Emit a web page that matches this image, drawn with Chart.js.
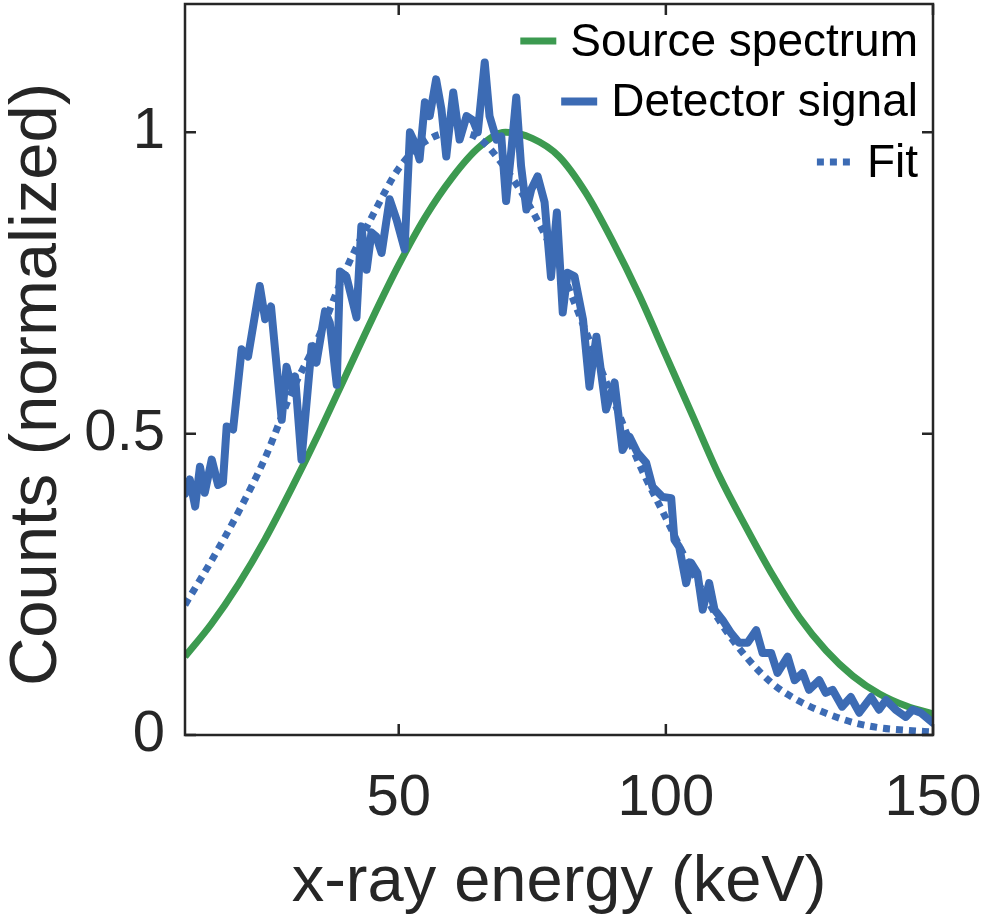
<!DOCTYPE html>
<html lang="en">
<head>
<meta charset="UTF-8">
<title>X-ray energy spectrum</title>
<script src="https://cdn.jsdelivr.net/npm/chart.js"></script>
<style>
  html, body { margin: 0; padding: 0; background: #fff; }
  #wrap { width: 982px; height: 918px; }
</style>
</head>
<body>
<div id="wrap"><canvas id="spectrum" width="982" height="918"></canvas></div>
<script>
const sourceEnergy = [10, 15, 20, 25, 30, 35, 40, 45, 50, 55, 60, 65, 70, 75, 80,
  85, 90, 95, 100, 105, 110, 115, 120, 125, 130, 135, 140, 145, 150];
const sourceCounts = [0.13, 0.185, 0.25, 0.325, 0.41, 0.50, 0.595, 0.69, 0.78, 0.86, 0.925, 0.975, 1.0, 0.99, 0.96,
  0.90, 0.82, 0.73, 0.63, 0.53, 0.43, 0.345, 0.265, 0.195, 0.14, 0.098, 0.068, 0.048, 0.035];

// Detector signal (blue, noisy)
const detectorEnergy = [10.0, 10.9, 11.9, 12.8, 13.7, 15.0, 16.2, 17.1, 17.8, 19.0,
  20.6, 21.8, 24.0, 25.0, 26.1, 28.1, 29.0, 29.9, 30.6, 31.8,
  33.7, 34.6, 36.2, 37.1, 38.4, 39.0, 40.2, 42.1, 43.0, 44.0,
  44.9, 45.8, 46.8, 48.3, 49.6, 51.1, 52.1, 53.0, 53.9, 54.9,
  55.8, 57.0, 58.0, 58.9, 60.2, 61.4, 62.7, 63.9, 64.8, 66.1,
  67.0, 68.3, 69.2, 70.1, 71.1, 72.0, 72.9, 73.9, 74.8, 76.0,
  77.3, 78.5, 79.6, 80.7, 81.6, 82.9, 83.5, 84.5, 85.7, 87.0,
  88.8, 90.4, 91.9, 93.2, 94.7, 96.3, 97.5, 99.4, 101.0, 101.6,
  102.5, 103.8, 104.7, 105.9, 106.9, 108.1, 109.1, 110.6, 112.2, 113.7,
  115.3, 116.9, 118.1, 119.7, 120.9, 122.8, 124.1, 125.6, 126.8, 128.7,
  129.9, 131.2, 133.0, 134.6, 136.2, 138.4, 139.9, 141.2, 143.0, 144.9,
  146.2, 147.7, 150.0];
const detectorCounts = [0.40, 0.424, 0.379, 0.445, 0.402, 0.457, 0.415, 0.419, 0.512, 0.507,
  0.640, 0.628, 0.745, 0.690, 0.711, 0.523, 0.611, 0.578, 0.595, 0.457,
  0.645, 0.618, 0.703, 0.684, 0.581, 0.769, 0.761, 0.693, 0.844, 0.772,
  0.834, 0.827, 0.800, 0.889, 0.855, 0.806, 1.0, 0.983, 0.955, 1.05,
  1.027, 1.088, 1.038, 0.96, 1.066, 0.988, 1.027, 1.02, 1.0, 1.116,
  1.027, 0.988, 0.993, 0.886, 0.972, 1.058, 0.944, 0.872, 0.905, 0.927,
  0.884, 0.76, 0.867, 0.701, 0.767, 0.761, 0.734, 0.689, 0.578, 0.661,
  0.54, 0.585, 0.473, 0.495, 0.468, 0.452, 0.412, 0.395, 0.393, 0.324,
  0.312, 0.252, 0.286, 0.269, 0.208, 0.252, 0.208, 0.191, 0.169, 0.153,
  0.153, 0.174, 0.136, 0.136, 0.103, 0.13, 0.091, 0.103, 0.075, 0.091,
  0.07, 0.075, 0.047, 0.063, 0.037, 0.063, 0.042, 0.058, 0.042, 0.03,
  0.042, 0.037, 0.02];

const fitEnergy = [10, 15, 20, 25, 30, 35, 40, 45, 50, 55, 60, 65, 70, 75, 80,
  85, 90, 95, 100, 105, 110, 115, 120, 125, 130, 135, 140, 145, 150];
const fitCounts = [0.216, 0.29, 0.37, 0.46, 0.57, 0.66, 0.77, 0.86, 0.94, 0.985, 1.0, 0.99, 0.94, 0.87, 0.78,
  0.67, 0.56, 0.45, 0.36, 0.27, 0.19, 0.13, 0.085, 0.056, 0.036, 0.021, 0.012, 0.008, 0.005];

const xTicks = [50, 100, 150];
const yTicks = [0, 0.5, 1];
const seriesLabels = ['Source spectrum', 'Detector signal', 'Fit'];
const yTitle = 'Counts (normalized)';

const ink = '#262626';
const green = '#3c9a50';
const blue = '#3c6bb4';
const fontFamily = '"Liberation Sans", Arial, Helvetica, sans-serif';

function points(xs, ys) {
    return xs.map((x, i) => ({ x: x, y: ys[i] }));
}

// keep the plot box where the reference has it, labels may hang over
function noPadding(s) {
    s.paddingLeft = 0;
    s.paddingRight = 0;
    s.paddingTop = 0;
    s.paddingBottom = 0;
}

// MATLAB style box with inward ticks on all four sides
const boxPlugin = {
    id: 'box',
    afterDatasetsDraw(chart) {
        const { ctx, chartArea: a, scales } = chart;
        const len = 11;
        ctx.save();
        ctx.strokeStyle = ink;
        ctx.lineWidth = 2.5;
        ctx.setLineDash([]);
        ctx.strokeRect(a.left, a.top, a.right - a.left, a.bottom - a.top);
        ctx.beginPath();
        xTicks.forEach(v => {
            const px = scales.x.getPixelForValue(v);
            ctx.moveTo(px, a.bottom); ctx.lineTo(px, a.bottom - len);
            ctx.moveTo(px, a.top); ctx.lineTo(px, a.top + len);
        });
        yTicks.forEach(v => {
            const py = scales.y.getPixelForValue(v);
            ctx.moveTo(a.left, py); ctx.lineTo(a.left + len, py);
            ctx.moveTo(a.right, py); ctx.lineTo(a.right - len, py);
        });
        ctx.stroke();

        // y title, sitting a bit lower than the axis centre like the original
        ctx.translate(38, (a.top + a.bottom) / 2 + 15);
        ctx.rotate(-Math.PI / 2);
        ctx.font = '67px ' + fontFamily;
        ctx.fillStyle = ink;
        ctx.textAlign = 'center';
        ctx.textBaseline = 'middle';
        ctx.fillText(yTitle, 0, 0);
        ctx.restore();
    }
};

// legend rows right aligned in the upper right corner
const legendPlugin = {
    id: 'rightLegend',
    afterDraw(chart) {
        const ctx = chart.ctx;
        const right = 918, firstY = 41, step = 60.5, sample = 36, gap = 14;
        ctx.save();
        ctx.font = '46px ' + fontFamily;
        ctx.textAlign = 'right';
        ctx.textBaseline = 'middle';
        chart.data.datasets.forEach((ds, row) => {
            const y = firstY + row * step;
            ctx.fillStyle = '#000';
            ctx.fillText(ds.label, right, y + 2);
            const w = ctx.measureText(ds.label).width;
            const x1 = right - w - gap;
            ctx.strokeStyle = ds.borderColor;
            ctx.lineWidth = ds.borderWidth;
            ctx.setLineDash(ds.borderDash || []);
            ctx.beginPath();
            ctx.moveTo(x1 - sample, y);
            ctx.lineTo(x1, y);
            ctx.stroke();
        });
        ctx.restore();
    }
};

new Chart(document.getElementById('spectrum'), {
    type: 'line',
    data: {
        datasets: [{
            label: seriesLabels[0],
            data: points(sourceEnergy, sourceCounts),
            borderColor: green,
            borderWidth: 7,
            cubicInterpolationMode: 'monotone',
            order: 3
        }, {
            label: seriesLabels[1],
            data: points(detectorEnergy, detectorCounts),
            borderColor: blue,
            borderWidth: 8,
            tension: 0,
            borderJoinStyle: 'round',
            borderCapStyle: 'round',
            order: 1
        }, {
            label: seriesLabels[2],
            data: points(fitEnergy, fitCounts),
            borderColor: blue,
            borderWidth: 7,
            borderDash: [7, 6],
            cubicInterpolationMode: 'monotone',
            order: 2
        }]
    },
    options: {
        responsive: false,
        animation: false,
        devicePixelRatio: 1,
        layout: { padding: { top: 4, right: 49, left: 0, bottom: 0 } },
        elements: { point: { radius: 0 } },
        plugins: {
            legend: { display: false },
            tooltip: { enabled: false }
        },
        scales: {
            x: {
                type: 'linear',
                min: 10,
                max: 150,
                afterBuildTicks: s => { s.ticks = xTicks.map(v => ({ value: v })); },
                afterFit: s => { s.height = 183; noPadding(s); },
                grid: { display: false, drawTicks: false },
                border: { display: false },
                ticks: {
                    color: ink,
                    padding: 35,
                    maxRotation: 0,
                    font: { family: fontFamily, size: 58, lineHeight: 1 },
                    callback: v => String(v)
                },
                title: {
                    display: true,
                    text: 'x-ray energy (keV)',
                    color: ink,
                    font: { family: fontFamily, size: 65, lineHeight: 1 },
                    padding: { top: 0, bottom: 2 }
                }
            },
            y: {
                min: 0,
                max: 1.213,
                afterBuildTicks: s => { s.ticks = yTicks.map(v => ({ value: v })); },
                afterFit: s => { s.width = 185; noPadding(s); },
                grid: { display: false, drawTicks: false },
                border: { display: false },
                ticks: {
                    color: ink,
                    padding: 20,
                    font: { family: fontFamily, size: 58, lineHeight: 1 },
                    callback: v => String(v)
                },
                title: { display: false }
            }
        }
    },
    plugins: [boxPlugin, legendPlugin]
});
</script>
</body>
</html>
